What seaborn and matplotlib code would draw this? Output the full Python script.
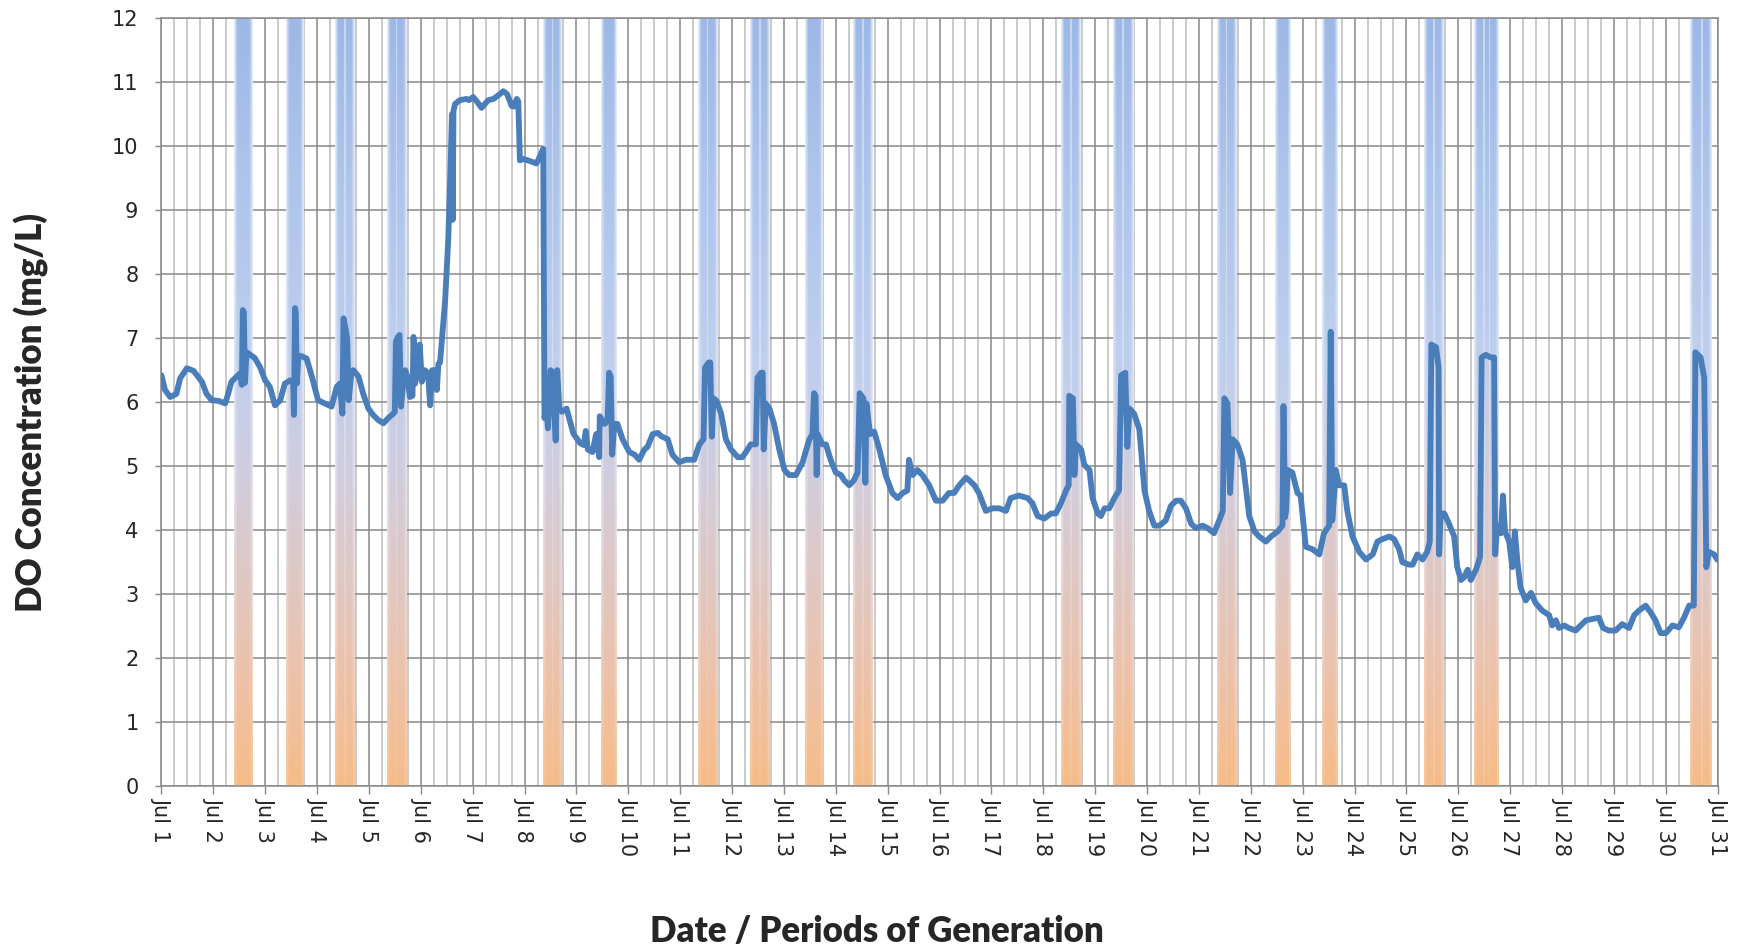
import numpy as np
import pandas as pd
import matplotlib
matplotlib.use("Agg")
import matplotlib.pyplot as plt
import matplotlib.dates as mdates
from matplotlib.colors import to_rgb
from matplotlib.ticker import FuncFormatter
import seaborn as sns

# Dissolved oxygen record: time in days elapsed since 1 July 00:00, value in mg/L
elapsed_days = [
    0.00, 0.07, 0.17, 0.29, 0.36, 0.49, 0.62, 0.78, 0.87, 0.97, 1.10, 1.23, 1.29, 1.35,
    1.45, 1.52, 1.55, 1.57, 1.59, 1.61, 1.64, 1.68, 1.80, 1.90, 2.00, 2.09, 2.19, 2.29,
    2.38, 2.48, 2.54, 2.555, 2.575, 2.59, 2.61, 2.64, 2.70, 2.80, 2.90, 3.02, 3.15, 3.28,
    3.38, 3.44, 3.49, 3.51, 3.55, 3.58, 3.61, 3.66, 3.70, 3.80, 3.89, 3.99, 4.08, 4.18,
    4.28, 4.37, 4.47, 4.50, 4.52, 4.56, 4.59, 4.62, 4.66, 4.70, 4.74, 4.79, 4.84, 4.86,
    4.89, 4.95, 4.98, 5.02, 5.08, 5.14, 5.18, 5.22, 5.28, 5.31, 5.34, 5.37, 5.40, 5.47,
    5.53, 5.57, 5.60, 5.615, 5.63, 5.66, 5.69, 5.75, 5.88, 5.93, 6.01, 6.10, 6.17, 6.30,
    6.40, 6.50, 6.59, 6.66, 6.72, 6.75, 6.80, 6.85, 6.88, 6.91, 6.98, 7.10, 7.23, 7.30,
    7.36, 7.385, 7.42, 7.45, 7.50, 7.53, 7.60, 7.63, 7.67, 7.72, 7.81, 7.94, 8.07, 8.14,
    8.18, 8.22, 8.31, 8.38, 8.44, 8.45, 8.54, 8.60, 8.63, 8.66, 8.69, 8.73, 8.79, 8.89,
    9.02, 9.12, 9.21, 9.31, 9.37, 9.47, 9.57, 9.63, 9.76, 9.85, 9.98, 10.11, 10.27, 10.37,
    10.45, 10.48, 10.55, 10.58, 10.61, 10.64, 10.70, 10.79, 10.88, 10.98, 11.11, 11.20,
    11.30, 11.36, 11.46, 11.49, 11.56, 11.59, 11.61, 11.65, 11.72, 11.81, 11.91, 12.01,
    12.10, 12.23, 12.36, 12.49, 12.55, 12.58, 12.61, 12.63, 12.65, 12.74, 12.81, 12.90,
    13.00, 13.10, 13.16, 13.26, 13.35, 13.42, 13.46, 13.53, 13.57, 13.59, 13.66, 13.74,
    13.84, 13.96, 14.09, 14.19, 14.29, 14.38, 14.41, 14.48, 14.57, 14.67, 14.80, 14.93,
    15.06, 15.18, 15.28, 15.38, 15.51, 15.57, 15.67, 15.76, 15.89, 16.02, 16.15, 16.28,
    16.37, 16.53, 16.70, 16.79, 16.89, 17.02, 17.15, 17.24, 17.34, 17.44, 17.49, 17.50,
    17.57, 17.60, 17.63, 17.73, 17.79, 17.89, 17.95, 18.05, 18.11, 18.18, 18.27, 18.37,
    18.46, 18.50, 18.58, 18.62, 18.66, 18.75, 18.85, 18.95, 19.04, 19.14, 19.24, 19.36,
    19.46, 19.56, 19.65, 19.75, 19.85, 19.94, 20.07, 20.17, 20.29, 20.39, 20.46, 20.49,
    20.55, 20.60, 20.65, 20.74, 20.84, 20.97, 21.07, 21.16, 21.29, 21.39, 21.52, 21.61,
    21.63, 21.66, 21.68, 21.71, 21.80, 21.90, 21.96, 22.06, 22.19, 22.32, 22.41, 22.51,
    22.54, 22.57, 22.64, 22.70, 22.80, 22.86, 22.96, 23.09, 23.22, 23.35, 23.44, 23.54,
    23.67, 23.76, 23.86, 23.92, 24.05, 24.12, 24.21, 24.31, 24.40, 24.45, 24.48, 24.57,
    24.62, 24.63, 24.66, 24.73, 24.82, 24.92, 24.98, 25.05, 25.11, 25.18, 25.24, 25.34,
    25.42, 25.45, 25.53, 25.62, 25.69, 25.71, 25.75, 25.82, 25.86, 25.90, 25.98, 26.04,
    26.09, 26.14, 26.20, 26.30, 26.40, 26.49, 26.62, 26.75, 26.81, 26.88, 26.94, 27.04,
    27.13, 27.26, 27.36, 27.46, 27.58, 27.71, 27.79, 27.90, 28.03, 28.16, 28.29, 28.39,
    28.48, 28.61, 28.71, 28.80, 28.90, 29.00, 29.13, 29.25, 29.35, 29.45, 29.54, 29.57,
    29.67, 29.74, 29.78, 29.83, 29.93, 29.99,
]
do_mg_l = [
    6.42, 6.19, 6.08, 6.13, 6.37, 6.53, 6.49, 6.32, 6.13, 6.03, 6.02, 5.98, 6.14, 6.32,
    6.40, 6.45, 6.27, 7.44, 7.40, 6.30, 6.78, 6.76, 6.69, 6.55, 6.34, 6.24, 5.95, 6.03,
    6.29, 6.34, 6.30, 5.80, 7.47, 7.40, 6.29, 6.72, 6.72, 6.68, 6.40, 6.03, 5.98, 5.93,
    6.24, 6.29, 5.82, 7.31, 7.15, 7.00, 6.03, 6.45, 6.50, 6.40, 6.13, 5.90, 5.80, 5.72,
    5.67, 5.75, 5.82, 5.85, 6.95, 7.02, 7.05, 5.93, 6.30, 6.50, 6.40, 6.08, 6.10, 7.02,
    6.29, 6.60, 6.90, 6.32, 6.50, 6.45, 5.95, 6.50, 6.50, 6.19, 6.60, 6.62, 6.90, 7.60,
    8.55, 9.55, 10.50, 8.85, 10.55, 10.66, 10.68, 10.72, 10.74, 10.72, 10.77, 10.68, 10.60, 10.72,
    10.74, 10.80, 10.86, 10.82, 10.70, 10.63, 10.62, 10.74, 10.70, 9.78, 9.80, 9.77, 9.73, 9.85,
    9.96, 5.75, 6.00, 5.59, 6.50, 6.48, 5.40, 6.50, 5.90, 5.85, 5.90, 5.51, 5.36, 5.33,
    5.55, 5.26, 5.22, 5.50, 5.14, 5.78, 5.66, 5.70, 6.46, 6.40, 5.18, 5.66, 5.66, 5.42,
    5.22, 5.18, 5.10, 5.26, 5.30, 5.50, 5.52, 5.47, 5.42, 5.18, 5.06, 5.10, 5.10, 5.34,
    5.42, 6.54, 6.62, 6.62, 5.46, 6.06, 6.02, 5.82, 5.42, 5.26, 5.14, 5.14,
    5.26, 5.34, 5.34, 6.38, 6.46, 6.46, 5.26, 5.98, 5.90, 5.66, 5.26, 4.94,
    4.86, 4.86, 5.06, 5.42, 5.50, 6.14, 6.10, 4.86, 5.50, 5.34, 5.34, 5.10,
    4.90, 4.86, 4.78, 4.70, 4.78, 4.90, 6.14, 6.06, 4.74, 5.98, 5.50, 5.54,
    5.26, 4.86, 4.58, 4.50, 4.58, 4.62, 5.10, 4.86, 4.94, 4.86, 4.70, 4.46,
    4.46, 4.58, 4.58, 4.70, 4.82, 4.78, 4.70, 4.58, 4.30, 4.34, 4.34, 4.30,
    4.50, 4.54, 4.50, 4.42, 4.22, 4.18, 4.26, 4.26, 4.42, 4.62, 4.70, 6.10,
    6.06, 4.86, 5.34, 5.26, 5.02, 4.94, 4.50, 4.26, 4.22, 4.34, 4.34, 4.50,
    4.62, 6.42, 6.46, 5.30, 5.90, 5.82, 5.58, 4.62, 4.30, 4.07, 4.07, 4.15,
    4.38, 4.46, 4.46, 4.34, 4.10, 4.03, 4.07, 4.03, 3.95, 4.15, 4.30, 6.06,
    5.98, 4.58, 5.42, 5.34, 5.10, 4.22, 3.98, 3.90, 3.82, 3.90, 3.98, 4.07,
    5.94, 4.20, 4.30, 4.94, 4.90, 4.58, 4.54, 3.74, 3.70, 3.62, 3.95, 4.07,
    7.10, 4.15, 4.94, 4.70, 4.70, 4.30, 3.90, 3.66, 3.54, 3.62, 3.82, 3.86,
    3.90, 3.86, 3.70, 3.50, 3.46, 3.46, 3.62, 3.54, 3.66, 3.82, 6.90, 6.86,
    6.54, 3.62, 4.26, 4.26, 4.10, 3.90, 3.42, 3.22, 3.26, 3.38, 3.22, 3.38,
    3.58, 6.70, 6.74, 6.70, 6.70, 3.62, 4.07, 3.95, 4.54, 3.98, 3.82, 3.42,
    3.98, 3.50, 3.10, 2.90, 3.02, 2.86, 2.74, 2.67, 2.51, 2.59, 2.47, 2.51,
    2.47, 2.43, 2.51, 2.59, 2.61, 2.63, 2.47, 2.43, 2.43, 2.53, 2.47, 2.67,
    2.74, 2.82, 2.71, 2.59, 2.39, 2.39, 2.51, 2.48, 2.63, 2.82, 2.82, 6.78,
    6.70, 6.38, 3.42, 3.66, 3.62, 3.54,
]

# Generation blocks, in days elapsed since 1 July 00:00
gen_start_days = [1.40, 2.41, 3.35, 3.54, 4.34, 4.53, 7.35, 7.53, 8.48, 10.34, 10.52,
                  11.35, 11.54, 12.41, 13.33, 13.52, 17.35, 17.54, 18.34, 18.53, 20.34,
                  20.52, 21.47, 22.37, 24.34, 24.53, 25.30, 25.49, 25.60, 29.46, 29.69]
gen_end_days = [1.75, 2.75, 3.54, 3.73, 4.53, 4.74, 7.53, 7.72, 8.78, 10.52, 10.73,
                11.54, 11.73, 12.75, 13.52, 13.71, 17.54, 17.73, 18.53, 18.73, 20.52,
                20.72, 21.77, 22.67, 24.53, 24.72, 25.49, 25.60, 25.79, 29.69, 29.88]
gen_level = 12

y_ticks = list(range(0, 13))
month_start = pd.Timestamp("2019-07-01")
n_days = 30

df = pd.DataFrame({
    "time": month_start + pd.to_timedelta(elapsed_days, unit="D"),
    "do": do_mg_l,
})

sns.set_theme(style="white")
plt.rcParams["font.family"] = ["DejaVu Sans"]

fig = plt.figure(figsize=(17.38, 9.51), dpi=100)
ax = fig.add_axes([0.09287, 0.17350, 0.89545, 0.80726])

sns.lineplot(data=df, x="time", y="do", ax=ax, color="#4a7ebb", linewidth=4.2,
             sort=False, estimator=None, zorder=3)

# Generation blocks: vertical blue-to-orange gradient with pale edges
stop_pos = [0.0, 0.15, 0.30, 0.42, 0.55, 0.80, 1.0]
stop_rgb = np.array([to_rgb(c) for c in
                     ["#f6bc88", "#ecc2ab", "#dcc9c9", "#cfcde0", "#bfcfee", "#adc4eb", "#9db8e6"]])
ny, nx = 300, 60
vv = np.linspace(0, 1, ny)
base = np.stack([np.interp(vv, stop_pos, stop_rgb[:, k]) for k in range(3)], axis=1)
starts = np.array(gen_start_days)
ends = np.array(gen_end_days)
for s, e in zip(starts, ends):
    width = e - s
    left_m = 0.02 if np.any(np.isclose(ends, s)) else 0.065
    right_m = 0.02 if np.any(np.isclose(starts, e)) else 0.065
    xs = (np.arange(nx) + 0.5) / nx * width
    inner = np.minimum(np.clip(xs / left_m, 0, 1), np.clip((width - xs) / right_m, 0, 1))
    strength = 0.2 + 0.65 * vv
    w = strength[:, None] * (1 - inner[None, :])
    img = base[:, None, :] * (1 - w[..., None]) + w[..., None]
    x0 = mdates.date2num(month_start + pd.Timedelta(days=float(s)))
    x1 = mdates.date2num(month_start + pd.Timedelta(days=float(e)))
    ax.imshow(img, extent=(x0, x1, 0, gen_level), origin="lower", aspect="auto",
              interpolation="bilinear", zorder=1)

ax.set_xlim(mdates.date2num(month_start), mdates.date2num(month_start + pd.Timedelta(days=n_days)))
ax.set_ylim(y_ticks[0], y_ticks[-1])
ax.set_yticks(y_ticks)
ax.set_aspect("auto")

ax.xaxis.set_major_locator(mdates.DayLocator())
ax.xaxis.set_minor_locator(mdates.HourLocator(byhour=[6, 12, 18]))
ax.xaxis.set_major_formatter(FuncFormatter(lambda v, pos: f"Jul {mdates.num2date(v).day}"))

grid_dark = "#888888"
ax.set_axisbelow(True)
ax.grid(which="major", axis="both", color=grid_dark, linewidth=1.1)
ax.grid(which="minor", axis="x", color="#bcbcbc", linewidth=1.1)
for sp in ax.spines.values():
    sp.set_color(grid_dark)
    sp.set_linewidth(1.1)

ax.tick_params(axis="x", which="major", direction="out", length=6, width=1,
               color=grid_dark, labelsize=15, pad=2, bottom=True)
ax.tick_params(axis="x", which="minor", length=0)
ax.tick_params(axis="y", direction="out", length=4.5, width=1, color=grid_dark,
               labelsize=15, pad=12, left=True)
plt.setp(ax.get_xticklabels(), rotation=-90, ha="center", va="top")
ax.set_xlabel("")
ax.set_ylabel("")

fig.text(876.7 / 1738, 1 - 931 / 951, "Date / Periods of Generation", ha="center", va="center",
         fontsize=25, fontweight="heavy", family="Lato")
fig.text(31 / 1738, 1 - 413 / 951, "DO Concentration (mg/L)", ha="center", va="center",
         rotation=90, fontsize=25, fontweight="heavy", family="Lato")

fig.savefig("out.png", dpi=100)
